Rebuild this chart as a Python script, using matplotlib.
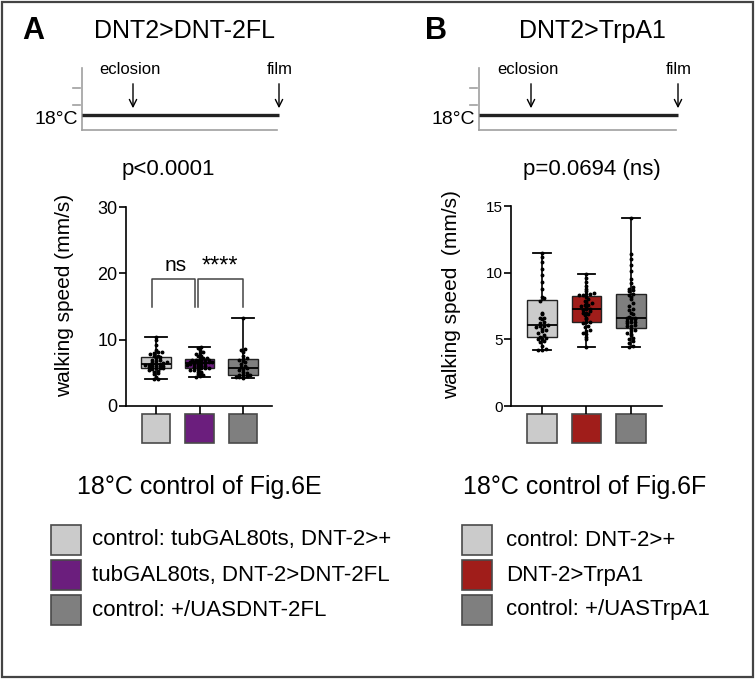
import numpy as np
import matplotlib
import matplotlib.pyplot as plt
from matplotlib.patches import Rectangle
import matplotlib.transforms as mtransforms

matplotlib.use('Agg')
plt.rcParams['font.family'] = ['Liberation Sans', 'DejaVu Sans']

W, H = 755, 680

# walking speed (mm/s), panel A: DNT2>DNT-2FL at 18C
speed_a_ctrl_gal = [4.0, 4.1, 4.4, 4.8, 5.0, 5.1, 5.3, 5.5, 5.6, 5.7, 5.7, 5.8, 5.9, 6.0,
                    6.0, 6.1, 6.1, 6.2, 6.2, 6.3, 6.3, 6.4, 6.5, 6.6, 6.7, 6.8, 6.9, 7.0,
                    7.2, 7.4, 7.5, 7.6, 7.8, 8.0, 8.1, 8.2, 8.4, 9.2, 9.9, 10.4]
speed_a_dnt2fl = [4.4, 4.5, 4.6, 4.8, 5.0, 5.1, 5.2, 5.4, 5.5, 5.6, 5.7, 5.7, 5.8, 5.9,
                  6.0, 6.0, 6.1, 6.2, 6.3, 6.3, 6.4, 6.5, 6.5, 6.6, 6.6, 6.7, 6.7, 6.8,
                  6.8, 6.9, 6.9, 7.0, 7.0, 7.1, 7.2, 7.3, 7.5, 7.6, 7.8, 8.0, 8.2, 8.4,
                  8.7, 8.9]
speed_a_ctrl_uas = [4.2, 4.3, 4.3, 4.4, 4.5, 4.6, 4.7, 4.7, 4.9, 5.2, 5.4, 5.6, 5.7, 5.9,
                    6.1, 6.3, 6.6, 6.8, 7.0, 7.1, 7.3, 7.6, 8.2, 8.5, 8.6, 13.2]

# panel B: DNT2>TrpA1 at 18C
speed_b_ctrl_gal = [4.2, 4.2, 4.3, 4.5, 4.8, 4.9, 5.0, 5.0, 5.1, 5.2, 5.3, 5.5, 5.6, 5.7,
                    5.8, 5.9, 6.0, 6.0, 6.1, 6.2, 6.3, 6.5, 6.6, 6.6, 6.9, 7.0, 7.9, 8.1,
                    8.2, 8.8, 9.3, 9.8, 10.3, 10.8, 11.2, 11.5]
speed_b_trpa1 = [4.45, 5.0, 5.2, 5.4, 5.5, 5.6, 5.7, 5.9, 6.0, 6.2, 6.3, 6.3, 6.5, 6.6,
                 6.8, 6.9, 7.0, 7.0, 7.1, 7.2, 7.3, 7.3, 7.4, 7.5, 7.6, 7.6, 7.7, 7.8,
                 7.9, 8.0, 8.2, 8.3, 8.3, 8.4, 8.4, 8.5, 8.6, 8.8, 9.0, 9.3, 9.6, 9.9]
speed_b_ctrl_uas = [4.4, 4.5, 4.7, 4.9, 5.0, 5.1, 5.3, 5.4, 5.5, 5.6, 5.7, 5.8, 6.0, 6.0,
                    6.1, 6.2, 6.3, 6.3, 6.4, 6.5, 6.5, 6.6, 6.6, 6.6, 6.7, 6.9, 7.0, 7.2,
                    7.3, 7.5, 7.7, 8.0, 8.2, 8.3, 8.4, 8.6, 8.7, 8.8, 8.9, 9.2, 9.5, 10.1,
                    10.6, 11.0, 11.4, 14.1]

colors_a = ['#cbcbcb', '#6b1e7d', '#7f7f7f']
colors_b = ['#cbcbcb', '#a01d1a', '#7f7f7f']
labels_a = ['control: tubGAL80ts, DNT-2>+', 'tubGAL80ts, DNT-2>DNT-2FL', 'control: +/UASDNT-2FL']
labels_b = ['control: DNT-2>+', 'DNT-2>TrpA1', 'control: +/UASTrpA1']
ticks_a = [0, 10, 20, 30]
ticks_b = [0, 5, 10, 15]

fig = plt.figure(figsize=(W / 100, H / 100), dpi=100)

# overlay in pixel coordinates for the schematic, texts and legend
ov = fig.add_axes([0, 0, 1, 1])
ov.set_xlim(0, W)
ov.set_ylim(H, 0)
ov.axis('off')


def px_axes(left, top, right, bottom):
    return fig.add_axes([left / W, 1 - bottom / H, (right - left) / W, (bottom - top) / H])


def swarm_offsets(vals, ystep, xstep):
    vals = np.asarray(vals)
    bins = np.round(vals / ystep).astype(int)
    offs = np.zeros(len(vals))
    for b in np.unique(bins):
        idx = np.where(bins == b)[0]
        n = len(idx)
        offs[idx] = (np.arange(n) - (n - 1) / 2) * xstep
    return offs


def draw_box(ax, data, colors, ymax, ticks, tick_size, ystep, capw, xlim):
    pos = [1, 2, 3]
    bp = ax.boxplot(data, positions=pos, widths=0.67, whis=(0, 100), patch_artist=True,
                    showfliers=False, capwidths=capw,
                    medianprops=dict(color='black', lw=1.3),
                    whiskerprops=dict(color='black', lw=1.2),
                    capprops=dict(color='black', lw=1.3),
                    boxprops=dict(edgecolor='#222222', lw=1.0))
    for patch, c in zip(bp['boxes'], colors):
        patch.set_facecolor(c)
    for p, vals in zip(pos, data):
        xs = p + swarm_offsets(vals, ystep, 0.085)
        ax.plot(xs, vals, 'o', ms=1.8, color='black', zorder=5)
    ax.set_xlim(*xlim)
    ax.set_ylim(0, ymax)
    ax.set_yticks(ticks)
    ax.set_xticks(pos)
    ax.set_xticklabels([])
    ax.tick_params(axis='x', length=6, width=1.2, direction='out')
    ax.tick_params(axis='y', length=5, width=1.2, labelsize=tick_size, pad=1)
    for s in ['top', 'right']:
        ax.spines[s].set_visible(False)
    for s in ['left', 'bottom']:
        ax.spines[s].set_linewidth(1.2)
    ax.patch.set_alpha(0)
    # coloured genotype squares under the x axis
    trans = mtransforms.blended_transform_factory(ax.transData, ax.transAxes)
    h = ax.get_window_extent().height
    for p, c in zip(pos, colors):
        ax.add_patch(Rectangle((p - 0.33, -37 / h), 0.66, 29 / h, transform=trans,
                               facecolor=c, edgecolor='#4a4a4a', lw=1.2, clip_on=False))


axA = px_axes(126, 207, 272, 406)
draw_box(axA, [speed_a_ctrl_gal, speed_a_dnt2fl, speed_a_ctrl_uas], colors_a, 30,
         ticks_a, 13, 0.4, 0.5, (0.31, 3.667))
axB = px_axes(511, 206, 662, 406)
draw_box(axB, [speed_b_ctrl_gal, speed_b_trpa1, speed_b_ctrl_uas], colors_b, 15,
         ticks_b, 11, 0.2, 0.4, (0.303, 3.697))

# significance brackets in panel A
for x0, x1 in [(0.9, 1.9), (1.97, 3.0)]:
    axA.plot([x0, x0, x1, x1], [15, 19.2, 19.2, 15], color='#444444', lw=1.1)
axA.text(1.44, 19.8, 'ns', ha='center', va='bottom', fontsize=15)
axA.text(2.47, 19.3, '****', ha='center', va='bottom', fontsize=17)

# y labels
ov.text(65, 295, 'walking speed (mm/s)', rotation=90, ha='center', va='center', fontsize=15)
ov.text(452, 295, 'walking speed  (mm/s)', rotation=90, ha='center', va='center', fontsize=15)

# panel letters and titles
ov.text(22, 31, 'A', fontsize=22, fontweight='bold', ha='left', va='center')
ov.text(184, 31, 'DNT2>DNT-2FL', fontsize=18, ha='center', va='center')
ov.text(425, 31, 'B', fontsize=22, fontweight='bold', ha='left', va='center')
ov.text(592, 31, 'DNT2>TrpA1', fontsize=18, ha='center', va='center')

# temperature schematic
for x_ax, x_end, x_ecl in [(82, 279, 133), (479, 678, 531)]:
    ov.plot([x_ax, x_ax], [68, 130], color='#a0a0a0', lw=1.2)
    ov.plot([x_ax, x_end - 2], [130, 130], color='#a0a0a0', lw=1.2)
    for yt in [88, 105]:
        ov.plot([x_ax - 9, x_ax - 2], [yt, yt], color='#a0a0a0', lw=1.2)
    ov.plot([x_ax, x_end], [115, 115], color='#222222', lw=2.4, solid_capstyle='butt')
    ov.text(x_ax - 4, 120, '18°C', fontsize=14, ha='right', va='center')
    for xa, lab in [(x_ecl, 'eclosion'), (x_end, 'film')]:
        ov.annotate('', xy=(xa, 111), xytext=(xa, 81),
                    arrowprops=dict(arrowstyle='->', lw=1.0, color='black', mutation_scale=13))
        ov.text(xa - 3 if lab == 'eclosion' else xa + 1, 69, lab, fontsize=12,
                ha='center', va='center')

# p values
ov.text(168, 170, 'p<0.0001', fontsize=16, ha='center', va='center')
ov.text(592, 170, 'p=0.0694 (ns)', fontsize=16, ha='center', va='center')

# captions
ov.text(199, 487, '18°C control of Fig.6E', fontsize=18, ha='center', va='center')
ov.text(585, 487, '18°C control of Fig.6F', fontsize=18, ha='center', va='center')

# legends
for x_sq, x_txt, cols, labs in [(51, 92, colors_a, labels_a), (462, 506, colors_b, labels_b)]:
    for i, (c, lab) in enumerate(zip(cols, labs)):
        top = 525 + 35 * i
        ov.add_patch(Rectangle((x_sq, top), 30, 30, facecolor=c, edgecolor='#4a4a4a', lw=1.2))
        ov.text(x_txt, top + 15, lab, fontsize=16, ha='left', va='center')

# outer frame
ov.add_patch(Rectangle((1.5, 1.5), 751, 675, fill=False, edgecolor='#444444', lw=1.6))

fig.savefig('out.png', dpi=100)
